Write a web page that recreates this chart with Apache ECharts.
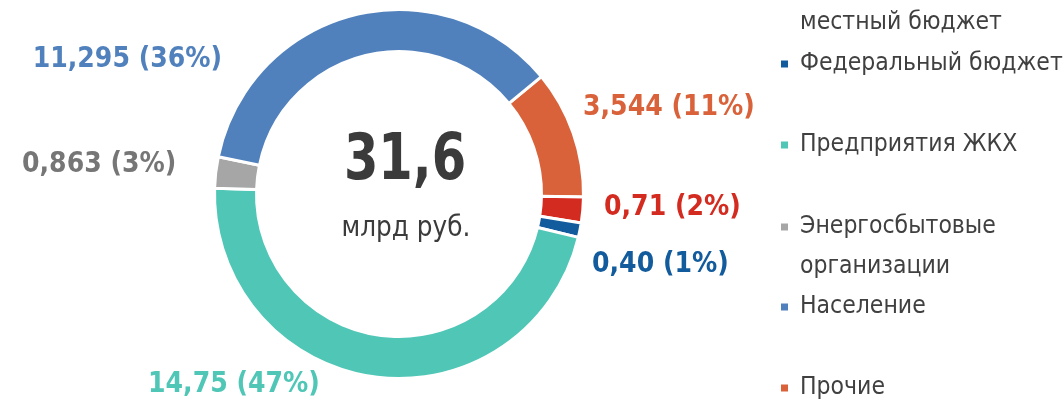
<!DOCTYPE html>
<html>
<head>
<meta charset="utf-8">
<script src="https://cdn.jsdelivr.net/npm/echarts@6/dist/echarts.min.js"></script>
<style>
  html, body { margin: 0; padding: 0; background: #fff; }
  #chart { width: 1064px; height: 404px; }
</style>
</head>
<body>
<div id="chart"></div>
<script>
// series order goes clockwise from "Прочие"
var names = ['Прочие', 'Региональный и\nместный бюджет', 'Федеральный бюджет', 'Предприятия ЖКХ', 'Энергосбытовые\nорганизации', 'Население'];
var values = [3.544, 0.71, 0.40, 14.75, 0.863, 11.295];
var valueText = ['3,544', '0,71', '0,40', '14,75', '0,863', '11,295'];
var legendOrder = ['Региональный и\nместный бюджет', 'Федеральный бюджет', 'Предприятия ЖКХ', 'Энергосбытовые\nорганизации', 'Население', 'Прочие'];
var totalText = '31,6';
var unitText = 'млрд руб.';

var colors = ['#d9623b', '#d42b20', '#125b9c', '#50c6b6', '#a6a6a6', '#5081bd'];
var labelColors = ['#d9623b', '#d42b20', '#125b9c', '#50c6b6', '#767676', '#5081bd'];
// label anchor points (left/right edge, middle)
var labelPos = [
  { x: 583, y: 108, align: 'left' },
  { x: 604, y: 208, align: 'left' },
  { x: 592, y: 265, align: 'left' },
  { x: 148, y: 385, align: 'left' },
  { x: 22, y: 165, align: 'left' },
  { x: 222, y: 60, align: 'right' }
];
var legendIconY = [-17, 64, 145, 227, 307, 388];

var font = "'Liberation Sans Narrow', 'DejaVu Sans Condensed', 'Roboto', sans-serif";

var myChart = echarts.init(document.getElementById('chart'));

// one legend per entry so the rows keep the fixed spacing of the original;
// two-line names get a blank line on top so the marker sits on the first line
var legends = legendOrder.map(function (n, i) {
  var twoLines = n.indexOf('\n') >= 0;
  return {
    data: [n],
    orient: 'vertical',
    left: 781,
    top: legendIconY[i] - (twoLines ? 60 : 20),
    padding: 0,
    icon: 'rect',
    itemWidth: 7,
    itemHeight: 7,
    itemStyle: { borderWidth: 0 },
    formatter: function (name) {
      return twoLines ? ' \n' + name : name;
    },
    textStyle: {
      fontFamily: font,
      fontSize: 24.5,
      color: '#404040',
      lineHeight: 40,
      padding: [0, 0, 0, 7]
    }
  };
});

var option = {
  animation: false,
  color: colors,
  legend: legends,
  graphic: [
    {
      type: 'text',
      x: 405,
      y: 162,
      scaleX: 0.86,
      style: {
        text: totalText,
        x: 0,
        y: 0,
        align: 'center',
        verticalAlign: 'middle',
        font: 'bold 64px ' + font,
        fill: '#3b3b3b'
      }
    },
    {
      type: 'text',
      x: 406,
      y: 228,
      scaleX: 0.95,
      style: {
        text: unitText,
        x: 0,
        y: 0,
        align: 'center',
        verticalAlign: 'middle',
        font: '29px ' + font,
        fill: '#3b3b3b'
      }
    }
  ],
  series: [
    {
      type: 'pie',
      center: [399, 194],
      radius: [142.5, 184.5],
      startAngle: 39.5,
      clockwise: true,
      percentPrecision: 0,
      avoidLabelOverlap: false,
      itemStyle: { borderColor: '#fff', borderWidth: 3 },
      labelLine: { show: false },
      label: {
        show: true,
        position: 'outside',
        fontFamily: font,
        fontWeight: 'bold',
        fontSize: 28,
        formatter: function (p) {
          return valueText[p.dataIndex] + ' (' + p.percent + '%)';
        }
      },
      labelLayout: function (p) {
        var lp = labelPos[p.dataIndex];
        return { x: lp.x, y: lp.y, align: lp.align, verticalAlign: 'middle' };
      },
      emphasis: { disabled: true },
      data: names.map(function (n, i) {
        return { name: n, value: values[i], label: { color: labelColors[i] } };
      })
    }
  ]
};

myChart.setOption(option);
</script>
</body>
</html>
